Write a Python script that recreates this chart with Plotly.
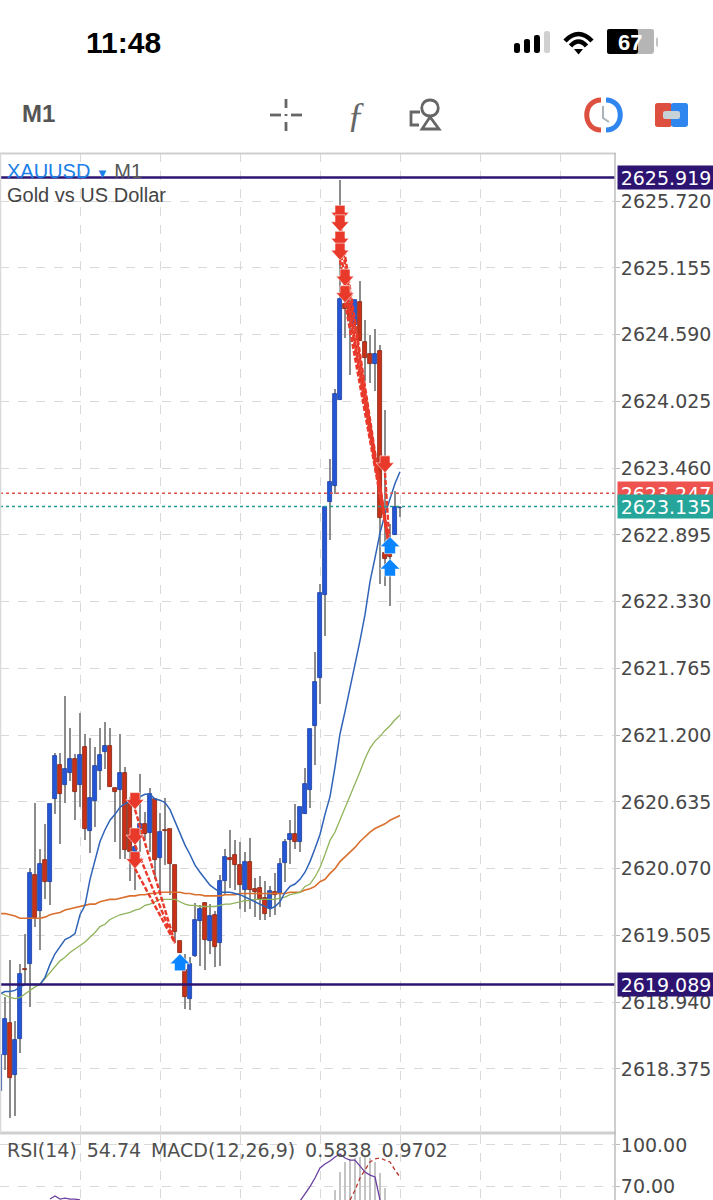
import plotly.graph_objects as go

# M1 candles, one entry per bar
opens = [2618.19, 2618.49, 2618.76, 2618.32, 2618.63, 2619.22, 2619.26, 2620.02, 2619.71, 2620.14,
         2619.96, 2620.66, 2620.95, 2620.78, 2620.88, 2621.00, 2620.78, 2621.10, 2620.39, 2620.64,
         2620.90, 2621.06, 2621.11, 2620.75, 2620.74, 2620.88, 2620.63, 2620.21, 2620.41, 2620.45,
         2620.37, 2620.66, 2620.16, 2620.40, 2620.41, 2620.10, 2619.46, 2619.21, 2618.97, 2619.33,
         2619.63, 2619.78, 2619.46, 2619.68, 2619.44, 2619.97, 2620.16, 2620.19, 2620.10, 2619.89,
         2620.13, 2619.90, 2619.91, 2619.82, 2619.74, 2619.87, 2619.86, 2620.12, 2620.31, 2620.36,
         2620.30, 2620.53, 2620.74, 2621.28, 2621.68, 2622.39, 2623.17, 2623.31, 2624.04, 2624.85,
         2624.85, 2624.67, 2624.87, 2624.53, 2624.43, 2624.34, 2624.45, 2622.74, 2622.74, 2622.89,
         2623.12]
highs = [2618.56, 2618.98, 2619.30, 2618.78, 2619.26, 2619.52, 2620.08, 2620.63, 2620.24, 2620.45,
         2620.62, 2621.05, 2621.05, 2621.53, 2621.26, 2621.04, 2621.39, 2621.21, 2621.18, 2621.10,
         2621.26, 2621.31, 2621.26, 2620.75, 2621.21, 2620.93, 2620.68, 2620.34, 2620.87, 2620.55,
         2620.75, 2620.66, 2620.54, 2620.67, 2620.41, 2620.10, 2619.46, 2619.35, 2619.32, 2619.78,
         2619.76, 2619.79, 2619.77, 2619.71, 2620.02, 2620.24, 2620.40, 2620.31, 2620.30, 2620.21,
         2620.33, 2619.99, 2620.01, 2619.97, 2619.92, 2620.03, 2620.16, 2620.32, 2620.48, 2620.62,
         2620.59, 2620.92, 2621.25, 2621.90, 2622.48, 2623.13, 2623.54, 2624.13, 2625.90, 2624.89,
         2624.88, 2624.88, 2625.04, 2624.71, 2624.59, 2624.64, 2624.50, 2623.95, 2622.99, 2623.27,
         2623.14]
lows = [2618.09, 2618.37, 2617.96, 2617.98, 2618.51, 2619.09, 2618.90, 2619.58, 2619.38, 2619.81,
        2619.76, 2620.53, 2620.28, 2620.63, 2620.81, 2620.48, 2620.59, 2620.31, 2620.20, 2620.42,
        2620.74, 2620.91, 2620.76, 2620.30, 2620.15, 2620.15, 2619.97, 2619.89, 2620.21, 2620.31,
        2620.21, 2619.98, 2619.85, 2620.10, 2619.85, 2619.45, 2619.36, 2618.88, 2618.87, 2619.32,
        2619.25, 2619.21, 2619.35, 2619.24, 2619.25, 2619.86, 2619.91, 2619.89, 2619.73, 2619.70,
        2619.73, 2619.66, 2619.64, 2619.64, 2619.66, 2619.68, 2619.75, 2619.96, 2620.11, 2620.24,
        2620.21, 2620.53, 2620.58, 2620.95, 2621.46, 2622.04, 2622.85, 2623.24, 2624.04, 2624.56,
        2624.25, 2624.62, 2624.54, 2624.20, 2624.18, 2624.11, 2622.48, 2622.46, 2622.29, 2622.89,
        2623.05]
closes = [2618.49, 2618.80, 2618.30, 2618.62, 2619.18, 2619.21, 2620.03, 2619.65, 2620.11, 2619.96,
          2620.62, 2621.02, 2620.70, 2620.91, 2621.00, 2620.72, 2621.03, 2620.41, 2620.67, 2620.94,
          2621.03, 2621.11, 2620.76, 2620.72, 2620.88, 2620.23, 2620.21, 2620.25, 2620.45, 2620.36,
          2620.70, 2620.14, 2620.38, 2620.39, 2620.11, 2619.53, 2619.36, 2618.98, 2619.26, 2619.64,
          2619.73, 2619.47, 2619.67, 2619.41, 2619.97, 2620.17, 2620.14, 2620.10, 2619.93, 2620.13,
          2619.89, 2619.87, 2619.81, 2619.69, 2619.88, 2619.85, 2620.11, 2620.30, 2620.36, 2620.30,
          2620.59, 2620.79, 2621.25, 2621.65, 2622.40, 2623.13, 2623.34, 2624.09, 2624.89, 2624.81,
          2624.71, 2624.88, 2624.54, 2624.39, 2624.34, 2624.43, 2623.04, 2622.69, 2622.71, 2623.13,
          2623.12]

ma_fast = [2619.01, 2619.03, 2619.03, 2619.04, 2619.07, 2619.09, 2619.09, 2619.09, 2619.09, 2619.15,
           2619.26, 2619.35, 2619.41, 2619.47, 2619.49, 2619.52, 2619.68, 2619.76, 2619.98, 2620.14,
           2620.30, 2620.40, 2620.48, 2620.53, 2620.59, 2620.62, 2620.64, 2620.66, 2620.68, 2620.70,
           2620.70, 2620.66, 2620.65, 2620.63, 2620.57, 2620.47, 2620.36, 2620.27, 2620.19, 2620.10,
           2620.04, 2619.98, 2619.93, 2619.90, 2619.87, 2619.87, 2619.87, 2619.86, 2619.85, 2619.83,
           2619.81, 2619.79, 2619.77, 2619.75, 2619.73, 2619.75, 2619.79, 2619.87, 2619.92, 2619.94,
           2619.98, 2620.04, 2620.13, 2620.24, 2620.36, 2620.53, 2620.68, 2620.93, 2621.21, 2621.40,
           2621.60, 2621.77, 2622.00, 2622.22, 2622.50, 2622.70, 2622.91, 2623.07, 2623.21, 2623.33,
           2623.43]
ma_mid = [2619.02, 2619.00, 2618.98, 2618.97, 2618.98, 2619.01, 2619.04, 2619.07, 2619.09, 2619.14,
          2619.19, 2619.24, 2619.29, 2619.32, 2619.36, 2619.39, 2619.42, 2619.45, 2619.49, 2619.53,
          2619.58, 2619.60, 2619.64, 2619.66, 2619.68, 2619.69, 2619.70, 2619.72, 2619.73, 2619.76,
          2619.77, 2619.79, 2619.81, 2619.81, 2619.81, 2619.81, 2619.79, 2619.77, 2619.76, 2619.76,
          2619.75, 2619.75, 2619.75, 2619.75, 2619.76, 2619.77, 2619.77, 2619.78, 2619.79, 2619.80,
          2619.80, 2619.81, 2619.81, 2619.81, 2619.81, 2619.81, 2619.82, 2619.83, 2619.85, 2619.86,
          2619.87, 2619.92, 2619.94, 2620.00, 2620.08, 2620.19, 2620.31, 2620.38, 2620.48, 2620.58,
          2620.68, 2620.78, 2620.89, 2621.00, 2621.09, 2621.15, 2621.19, 2621.24, 2621.28, 2621.33,
          2621.37]
ma_slow = [2619.69, 2619.69, 2619.68, 2619.67, 2619.65, 2619.65, 2619.65, 2619.65, 2619.65, 2619.66,
           2619.68, 2619.69, 2619.70, 2619.72, 2619.73, 2619.74, 2619.75, 2619.76, 2619.77, 2619.77,
           2619.79, 2619.80, 2619.81, 2619.81, 2619.82, 2619.83, 2619.84, 2619.84, 2619.85, 2619.85,
           2619.86, 2619.86, 2619.87, 2619.87, 2619.87, 2619.87, 2619.87, 2619.86, 2619.86, 2619.85,
           2619.85, 2619.84, 2619.84, 2619.84, 2619.84, 2619.85, 2619.85, 2619.85, 2619.86, 2619.86,
           2619.86, 2619.86, 2619.86, 2619.86, 2619.86, 2619.86, 2619.86, 2619.86, 2619.87, 2619.87,
           2619.87, 2619.89, 2619.90, 2619.92, 2619.96, 2619.98, 2620.03, 2620.07, 2620.13, 2620.17,
           2620.21, 2620.25, 2620.30, 2620.34, 2620.38, 2620.41, 2620.43, 2620.45, 2620.48, 2620.50,
           2620.52]

price_ticks = [2625.720, 2625.155, 2624.590, 2624.025, 2623.460, 2622.895, 2622.330,
               2621.765, 2621.200, 2620.635, 2620.070, 2619.505, 2618.940, 2618.375]

# trade arrows (bar index, price at the tip)
sell_bar = [68, 68, 68, 68, 69, 69, 77, 27, 27, 27]
sell_px = [2625.54, 2625.46, 2625.32, 2625.22, 2625.00, 2624.86, 2623.42, 2620.57, 2620.27, 2620.07]
close_bar = [78, 78, 78, 78, 78, 78, 78, 35, 35, 35]
close_px = [2622.76, 2622.76, 2622.76, 2622.76, 2622.76, 2622.76, 2622.76, 2619.44, 2619.44, 2619.44]
buy_bar = [36, 78, 78]
buy_px = [2619.35, 2622.88, 2622.69]

# lower pane
rsi_bar = [10, 11, 12, 13, 14, 15, 16, None, 60, 61, 62, 63, 64, 65, 66, 67, 68, 69, 70, 71, 72, 73, 74, 75, 76]
rsi_val = [60.5, 62.7, 60.5, 61.2, 60.5, 60.5, 59.8, None, 59.0, 63.9, 69.6, 75.9, 83.2, 86.1, 88.3, 91.2,
           93.4, 90.5, 89.0, 89.0, 84.6, 80.2, 78.0, 76.6, 59.8]
signal_bar = [70, 71, 72, 73, 74, 75, 76, 77, 78, 79, 80]
signal_val = [59.8, 67.0, 75.9, 81.7, 87.6, 89.8, 90.5, 89.0, 87.6, 81.7, 76.6]
hist_bar = [67, 68, 69, 70, 71, 72, 73, 74, 75, 76, 77]
hist_val = [67.0, 80.2, 87.6, 89.8, 90.5, 91.2, 91.2, 90.5, 87.6, 79.5, 68.5]


W, H = 713, 1200


def px(x):
    return x / W


def py(y):
    return 1 - y / H


def pt(x, y):
    return f"{px(x):.5f},{py(y):.5f}"


def poly(*pts, close=False):
    d = "M" + " L".join(pt(x, y) for x, y in pts)
    return d + (" Z" if close else "")


def chrome_path(d, color=None, fill=None, width=3):
    return dict(type="path", xref="paper", yref="paper", path=d, layer="above",
                line=dict(color=color or "rgba(0,0,0,0)", width=width),
                fillcolor=fill or "rgba(0,0,0,0)")


def chrome_rect(x0, y0, x1, y1, fill):
    # rounded a little with quadratic corners
    r = 2.5
    d = ("M" + pt(x0 + r, y0) + " L" + pt(x1 - r, y0) + " Q" + pt(x1, y0) + " " + pt(x1, y0 + r)
         + " L" + pt(x1, y1 - r) + " Q" + pt(x1, y1) + " " + pt(x1 - r, y1)
         + " L" + pt(x0 + r, y1) + " Q" + pt(x0, y1) + " " + pt(x0, y1 - r)
         + " L" + pt(x0, y0 + r) + " Q" + pt(x0, y0) + " " + pt(x0 + r, y0) + " Z")
    return chrome_path(d, fill=fill, width=0)


def chrome_text(x, y, text, size, color, anchor="left", family="Liberation Sans", bold=False):
    if bold:
        text = f"<b>{text}</b>"
    return dict(xref="paper", yref="paper", x=px(x), y=py(y), text=text, showarrow=False,
                xanchor=anchor, yanchor="middle", borderpad=0,
                font=dict(family=family, size=size, color=color))


BLUE, BLUE_EDGE = "#2357d8", "#1b3d9c"
RED, RED_EDGE = "#cc3118", "#7f2412"
WICK = "#8c8c8c"
GRID = "#d9d9d9"
NAVY = "#2c1470"
ARROW_RED = "#e8392a"
ARROW_BLUE = "#0a84ff"
TICK_FONT = dict(family="DejaVu Sans", size=19, color="#484848")

bars = list(range(len(opens)))
up = [i for i in bars if closes[i] >= opens[i]]
down = [i for i in bars if closes[i] < opens[i]]

fig = go.Figure()

fig.add_trace(go.Bar(x=bars, base=lows, y=[h - l for h, l in zip(highs, lows)],
                     width=0.3, marker=dict(color=WICK, line_width=0)))
for idx, col, edge in ((up, BLUE, BLUE_EDGE), (down, RED, RED_EDGE)):
    fig.add_trace(go.Bar(x=idx, base=[min(opens[i], closes[i]) for i in idx],
                         y=[abs(closes[i] - opens[i]) for i in idx], width=0.68,
                         marker=dict(color=col, line=dict(color=edge, width=0.8))))

for vals, col, lw in ((ma_slow, "#d9702e", 1.6), (ma_mid, "#8fb35a", 1.3), (ma_fast, "#2f63b8", 1.5)):
    fig.add_trace(go.Scatter(x=bars, y=vals, mode="lines", line=dict(color=col, width=lw)))

for a, p, b, q in zip(sell_bar, sell_px, close_bar, close_px):
    fig.add_trace(go.Scatter(x=[a, b], y=[p, q], mode="lines",
                             line=dict(color=ARROW_RED, width=2.4, dash="5px,2px")))

# lower pane
fig.add_trace(go.Bar(x=hist_bar, base=[55] * len(hist_val), y=[v - 55 for v in hist_val], width=0.2,
                     marker=dict(color="#c4c4c4", line_width=0), xaxis="x2", yaxis="y2"))
fig.add_trace(go.Scatter(x=rsi_bar, y=rsi_val, mode="lines", line=dict(color="#6a3fa0", width=1.3),
                         xaxis="x2", yaxis="y2", connectgaps=False))
fig.add_trace(go.Scatter(x=signal_bar, y=signal_val, mode="lines",
                         line=dict(color="#b8352a", width=1.3, dash="4px,3px"), xaxis="x2", yaxis="y2"))

shapes = []
for level, col, lw, dash in ((2625.919, NAVY, 2.5, "solid"), (2619.089, NAVY, 2.5, "solid"),
                             (2623.247, "#e2514a", 1.6, "3px,3px"), (2623.135, "#1f9c8e", 1.6, "3px,3px")):
    shapes.append(dict(type="line", xref="x", yref="y", x0=0, x1=123, y0=level, y1=level,
                       line=dict(color=col, width=lw, dash=dash), layer="above"))

DOWN_ARROW = "M 0 0 L -9 10 L -5 10 L -5 17 L 5 17 L 5 10 L 9 10 Z"
UP_ARROW = "M 0 0 L -10 -10 L -5.5 -10 L -5.5 -17 L 5.5 -17 L 5.5 -10 L 10 -10 Z"
for b, p in zip(sell_bar, sell_px):
    shapes.append(dict(type="path", xref="x", yref="y", xsizemode="pixel", ysizemode="pixel",
                       xanchor=b, yanchor=p, path=DOWN_ARROW, fillcolor=ARROW_RED,
                       line=dict(color="rgba(255,255,255,0.7)", width=0.8), layer="above"))
for b, p in zip(buy_bar, buy_px):
    shapes.append(dict(type="path", xref="x", yref="y", xsizemode="pixel", ysizemode="pixel",
                       xanchor=b, yanchor=p, path=UP_ARROW, fillcolor=ARROW_BLUE,
                       line=dict(color="rgba(255,255,255,0.7)", width=0.8), layer="above"))

# pane frame
shapes.append(chrome_path(poly((0, 153.5), (616, 153.5)), color="#cfcfcf", width=2))
shapes.append(chrome_path(poly((0, 1133), (616, 1133)), color="#cfcfcf", width=3))
shapes.append(chrome_path(poly((615, 153), (615, 1200)), color="#bdbdbd", width=1.5))
shapes.append(chrome_path(poly((0.5, 153), (0.5, 1133)), color="#d8d8d8", width=1.5))

# status bar: signal, wifi, battery
for x0, top, col in ((514, 43, "black"), (524, 39, "black"), (534, 35, "black"), (544, 31, "#d0d0d0")):
    shapes.append(chrome_rect(x0, top, x0 + 6, 53, col))
shapes.append(chrome_path("M" + pt(565, 41) + " Q" + pt(578.5, 27) + " " + pt(592, 41), color="black", width=4.5))
shapes.append(chrome_path("M" + pt(570.5, 46) + " Q" + pt(578.5, 37) + " " + pt(586.5, 46), color="black", width=4.5))
shapes.append(chrome_path(poly((574, 49), (583, 49), (578.5, 54.5), close=True), fill="black", width=0))
shapes.append(chrome_rect(607, 29, 654, 54, "#b5b5b5"))
shapes.append(chrome_rect(607, 29, 638, 54, "black"))
shapes.append(chrome_rect(656, 37, 658, 47, "#c4c4c4"))

# toolbar icons
ICON = "#666666"
for seg in (((286, 99), (286, 108)), ((286, 122), (286, 131)), ((270, 115), (281, 115)), ((291, 115), (302, 115)),
            ((286, 114), (286, 116))):
    shapes.append(chrome_path(poly(*seg), color=ICON, width=2.8))
shapes.append(chrome_path(poly((420, 112), (411, 112), (411, 125), (419, 125)), color=ICON, width=2.8))
shapes.append(chrome_path(poly((430, 117), (422, 129), (439, 129), close=True), color=ICON, width=2.8))
shapes.append(chrome_path("M" + pt(430, 100) + " C" + pt(441, 100) + " " + pt(441, 116) + " " + pt(430, 116)
                          + " C" + pt(419, 116) + " " + pt(419, 100) + " " + pt(430, 100), color=ICON, width=2.8))
shapes.append(chrome_path("M" + pt(601, 100) + " C" + pt(582, 100) + " " + pt(582, 130) + " " + pt(601, 130),
                          color="#dd5040", width=5))
shapes.append(chrome_path("M" + pt(606, 100) + " C" + pt(625, 100) + " " + pt(625, 130) + " " + pt(606, 130),
                          color="#2f86ef", width=5))
shapes.append(chrome_path(poly((603, 106), (603, 118), (609, 122)), color="#a9b4ba", width=2))
shapes.append(chrome_rect(655, 103, 672, 127, "#dd5040"))
shapes.append(chrome_rect(671, 103, 688, 127, "#2f86ef"))
shapes.append(chrome_rect(663, 111, 680, 119, "#c6d1d8"))

annotations = [
    chrome_text(85, 42, "11:48", 30, "black", bold=True),
    chrome_text(630, 42, "67", 22, "white", anchor="center", bold=True),
    chrome_text(21, 114, "M1", 24, "#555555", bold=True),
    chrome_text(356, 115, "<i>ƒ</i>", 36, ICON, anchor="center", family="Liberation Serif"),
    chrome_text(6, 171, "<span style='color:#1a7fe8'>XAUUSD</span> <span style='color:#1a7fe8;font-size:13px'>▼</span> "
                        "<span style='color:#555555'>M1</span>", 20, "#555555"),
    chrome_text(6, 195, "Gold vs US Dollar", 20, "#444444"),
    chrome_text(6, 1150, "RSI(14) \u200954.74 \u2009MACD(12,26,9) \u20090.5838 \u20090.9702", 19, "#505050",
                family="DejaVu Sans"),
]
for level, bg in ((2625.919, NAVY), (2619.089, NAVY), (2623.247, "#ef5350"), (2623.135, "#26a69a")):
    annotations.append(dict(xref="paper", yref="y", x=px(617), y=level, xanchor="left", yanchor="middle",
                            text=f"{level:.3f}", showarrow=False, bgcolor=bg, width=96, height=23,
                            borderpad=0, align="center",
                            font=dict(family="DejaVu Sans", size=19, color="white")))

xcommon = dict(range=[0, 123], tick0=0, dtick=16, showgrid=True, gridcolor=GRID, griddash="dash", gridwidth=1,
               zeroline=False, showticklabels=False, ticks="", domain=[0, px(615)], fixedrange=True)

fig.update_layout(
    width=W, height=H, margin=dict(l=0, r=0, t=0, b=0), paper_bgcolor="white", plot_bgcolor="white",
    showlegend=False, barmode="overlay", bargap=0, shapes=shapes, annotations=annotations,
    xaxis=dict(anchor="y", **xcommon),
    xaxis2=dict(anchor="y2", **xcommon),
    yaxis=dict(domain=[py(1131), py(153)], range=[2617.85, 2626.127], side="right", anchor="x",
               tickmode="array", tickvals=price_ticks, ticktext=[f"{t:.3f}" for t in price_ticks],
               showgrid=True, gridcolor=GRID, griddash="dash", zeroline=False, ticks="outside", ticklen=4,
               tickcolor="#bdbdbd", tickfont=TICK_FONT, ticklabelstandoff=-3),
    yaxis2=dict(domain=[0, py(1135)], range=[59.8, 107.3], side="right", anchor="x2",
                tickmode="array", tickvals=[70, 100], ticktext=["70.00", "100.00"], showgrid=True,
                gridcolor=GRID, griddash="dash", zeroline=False, ticks="outside", ticklen=4,
                tickcolor="#bdbdbd", tickfont=TICK_FONT, ticklabelstandoff=-3),
)

fig.write_html("out.html", config={"displayModeBar": False},
               post_script="document.body.style.margin='0';")
